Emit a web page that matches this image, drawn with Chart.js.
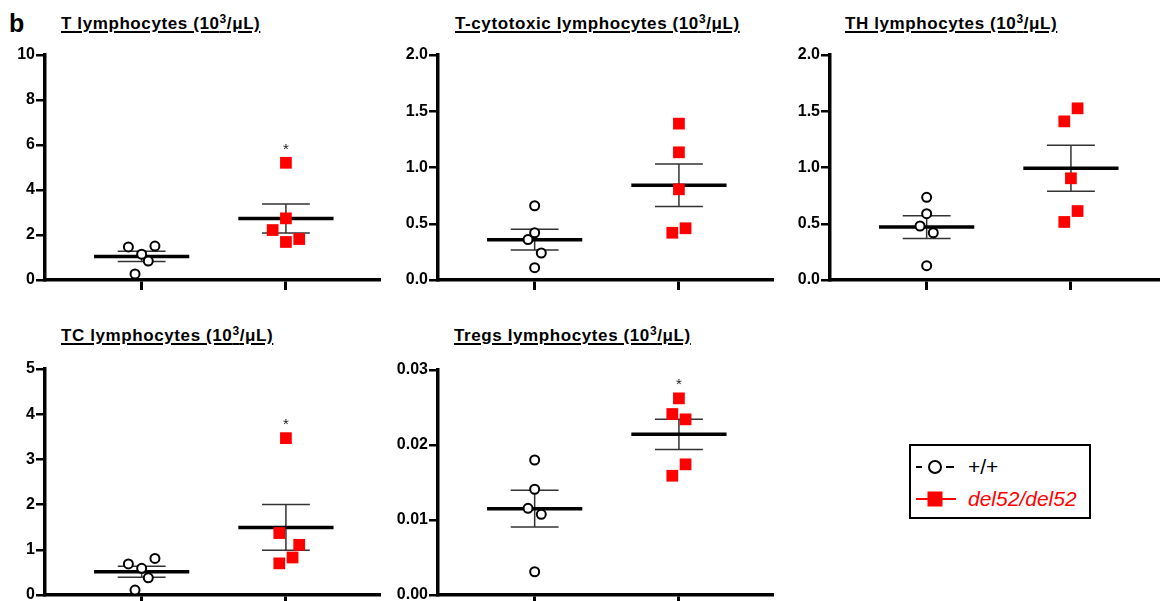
<!DOCTYPE html>
<html>
<head>
<meta charset="utf-8">
<script src="https://cdn.jsdelivr.net/npm/chart.js@4.4.1/dist/chart.umd.min.js"></script>
<style>
  body { margin: 0; width: 1160px; height: 601px; overflow: hidden; background: #fff; position: relative;
         font-family: "Liberation Sans", Arial, sans-serif; }
  canvas { position: absolute; }
  .title { position: absolute; font-weight: bold; font-size: 17px; line-height: 20px; white-space: nowrap; letter-spacing: 0.6px;
           text-decoration: underline; text-decoration-thickness: 2px; text-underline-offset: 2px; color: #000; }
  .title sup { font-size: 12px; line-height: 0; vertical-align: 6px; }
  .panel-letter { position: absolute; left: 9px; top: 8px; font-weight: bold; font-size: 25px; line-height: 30px; }
  #legend { position: absolute; left: 909px; top: 444px; width: 178px; height: 71px; border: 2px solid #000; }
  #legend .row { position: absolute; left: 5px; height: 24px; display: flex; align-items: center; font-size: 21px; }
  #legend .row span { margin-left: 10px; }
</style>
</head>
<body>
<div class="panel-letter">b</div>
<div id="legend">
  <div class="row" style="top:9px">
    <svg width="42" height="18"><line x1="0" y1="9" x2="6" y2="9" stroke="#000" stroke-width="2"/><circle cx="19" cy="9" r="6" fill="#fff" stroke="#000" stroke-width="2"/><line x1="30" y1="9" x2="38" y2="9" stroke="#000" stroke-width="2"/></svg>
    <span id="lg0"></span>
  </div>
  <div class="row" style="top:41px">
    <svg width="42" height="18"><line x1="0" y1="9" x2="40" y2="9" stroke="#f00" stroke-width="2"/><rect x="11.5" y="1.5" width="15" height="15" fill="#f00"/></svg>
    <span id="lg1" style="color:#f00;font-style:italic"></span>
  </div>
</div>
<script>
// groups and panel titles
var groups = ['+/+', 'del52/del52'];
var titles = ['T lymphocytes', 'T-cytotoxic lymphocytes', 'TH lymphocytes', 'TC lymphocytes', 'Tregs lymphocytes'];

// values (10^3/uL)
var wildT = [1.47, 1.51, 1.15, 0.84, 0.27];
var delT = [5.21, 2.74, 2.22, 1.69, 1.82];
var wildTcyto = [0.66, 0.42, 0.36, 0.24, 0.11];
var delTcyto = [1.39, 1.135, 0.806, 0.42, 0.46];
var wildTh = [0.735, 0.59, 0.48, 0.42, 0.127];
var delTh = [1.526, 1.41, 0.904, 0.613, 0.516];
var wildTc = [0.687, 0.81, 0.59, 0.38, 0.11];
var delTc = [3.47, 1.37, 1.11, 0.83, 0.70];
var wildTreg = [0.018, 0.0141, 0.01156, 0.01076, 0.0031];
var delTreg = [0.02622, 0.02413, 0.02342, 0.01742, 0.0159];

// axes
var yMax = [10, 2, 2, 5, 0.03];
var yStep = [2, 0.5, 0.5, 1, 0.01];
var yDecimals = [0, 1, 1, 0, 2];
var significant = [true, false, false, true, true];

var wildValues = [wildT, wildTcyto, wildTh, wildTc, wildTreg];
var delValues = [delT, delTcyto, delTh, delTc, delTreg];

// layout: where each plot sits, and the horizontal spread of the dots
var panelPos = [
  {left: 45, top: 55, bottom: 280}, {left: 438, top: 55, bottom: 280}, {left: 830, top: 55, bottom: 280},
  {left: 45, top: 369, bottom: 595}, {left: 438, top: 370, bottom: 595}
];
var titlePos = [[61, 14], [455, 14], [845, 14], [61, 326], [454, 326]];
var wildSpread = [[-2, 2, 0, 1, -1], [0, 0, -1, 1, 0], [0, 0, -1, 1, 0], [-2, 2, 0, 1, -1], [0, 0, -1, 1, 0]];
var delSpread = [[0, 0, -2, 0, 2], [0, 0, 0, -1, 1], [1, -1, 0, 1, -1], [0, -1, 2, 1, -1], [0, -1, 1, 1, -1]];

var FONT = '"Liberation Sans", Arial, sans-serif';
var RED = '#ff0000';
var Y_AXIS_W = 45, X_AXIS_H = 20, PAD_TOP = 15, PLOT_W = 338;
var STEP = 0.046;

function mean(a) {
  var s = 0;
  for (var i = 0; i < a.length; i++) s += a[i];
  return s / a.length;
}

function sem(a) {
  var m = mean(a), s = 0;
  for (var i = 0; i < a.length; i++) s += (a[i] - m) * (a[i] - m);
  return Math.sqrt(s / (a.length - 1)) / Math.sqrt(a.length);
}

function meanLine(c, vals) {
  var m = mean(vals);
  return {
    data: [{x: c - 0.33, y: m}, {x: c + 0.33, y: m}],
    showLine: true, borderColor: '#000', borderWidth: 3.5, pointRadius: 0, clip: false
  };
}

function semLine(c, vals) {
  var m = mean(vals), e = sem(vals), w = 0.166;
  return {
    data: [{x: c - w, y: m + e}, {x: c + w, y: m + e}, {x: c, y: null},
           {x: c - w, y: m - e}, {x: c + w, y: m - e}, {x: c, y: null},
           {x: c, y: m + e}, {x: c, y: m - e}],
    showLine: true, spanGaps: false, borderColor: '#333', borderWidth: 1.5, pointRadius: 0, clip: false
  };
}

var starPlugin = {
  id: 'star',
  afterDatasetsDraw: function(chart, args, opts) {
    if (!opts.show) return;
    var ctx = chart.ctx;
    var px = chart.scales.x.getPixelForValue(2);
    var py = chart.scales.y.getPixelForValue(opts.top);
    ctx.save();
    ctx.font = '15px ' + FONT;
    ctx.fillStyle = '#222';
    ctx.textAlign = 'center';
    ctx.textBaseline = 'middle';
    ctx.fillText('*', px, py - 13);
    ctx.restore();
  }
};

function buildPanel(i) {
  var pos = panelPos[i];
  var wild = wildValues[i], del = delValues[i];

  var t = document.createElement('div');
  t.className = 'title';
  t.style.left = titlePos[i][0] + 'px';
  t.style.top = titlePos[i][1] + 'px';
  t.innerHTML = titles[i] + ' (10<sup>3</sup>/\u03bcL)';
  document.body.appendChild(t);

  var canvas = document.createElement('canvas');
  canvas.width = Y_AXIS_W + PLOT_W + 5;
  canvas.height = PAD_TOP + (pos.bottom - pos.top) + X_AXIS_H;
  canvas.style.left = (pos.left - Y_AXIS_W) + 'px';
  canvas.style.top = (pos.top - PAD_TOP) + 'px';
  document.body.appendChild(canvas);

  new Chart(canvas, {
    type: 'scatter',
    data: {
      datasets: [
        {
          label: groups[0],
          data: wild.map(function(v, k) { return {x: 1 + wildSpread[i][k] * STEP, y: v}; }),
          pointStyle: 'circle', pointRadius: 4.5, pointBackgroundColor: '#fff',
          pointBorderColor: '#000', pointBorderWidth: 2, clip: false
        },
        {
          label: groups[1],
          data: del.map(function(v, k) { return {x: 2 + delSpread[i][k] * STEP, y: v}; }),
          pointStyle: 'rect', pointRadius: 8.3, pointBackgroundColor: RED,
          pointBorderColor: RED, pointBorderWidth: 0, clip: false
        },
        meanLine(1, wild), meanLine(2, del),
        semLine(1, wild), semLine(2, del)
      ]
    },
    options: {
      responsive: false,
      animation: false,
      devicePixelRatio: 1,
      layout: {padding: {top: PAD_TOP, right: 5, left: 0, bottom: 0}},
      plugins: {
        legend: {display: false},
        tooltip: {enabled: false},
        star: {show: significant[i], top: Math.max.apply(null, del)}
      },
      scales: {
        x: {
          type: 'linear', min: 0.33, max: 2.65,
          afterFit: function(s) { s.height = X_AXIS_H; },
          afterBuildTicks: function(s) { s.ticks = [{value: 1}, {value: 2}]; },
          ticks: {callback: function() { return ''; }},
          grid: {drawOnChartArea: false, tickLength: 10, lineWidth: 3, color: '#000'},
          border: {display: true, width: 3.5, color: '#000'}
        },
        y: {
          min: 0, max: yMax[i],
          afterFit: function(s) { s.width = Y_AXIS_W; },
          ticks: {
            stepSize: yStep[i], color: '#000', padding: 1,
            font: {family: FONT, size: 16, weight: 'bold'},
            callback: function(v) { return v.toFixed(yDecimals[i]); }
          },
          grid: {drawOnChartArea: false, tickLength: 9, lineWidth: 2.5, color: '#000'},
          border: {display: true, width: 3.5, color: '#000'}
        }
      }
    },
    plugins: [starPlugin]
  });
}

document.getElementById('lg0').textContent = groups[0];
document.getElementById('lg1').textContent = groups[1];
for (var i = 0; i < titles.length; i++) buildPanel(i);
</script>
</body>
</html>
